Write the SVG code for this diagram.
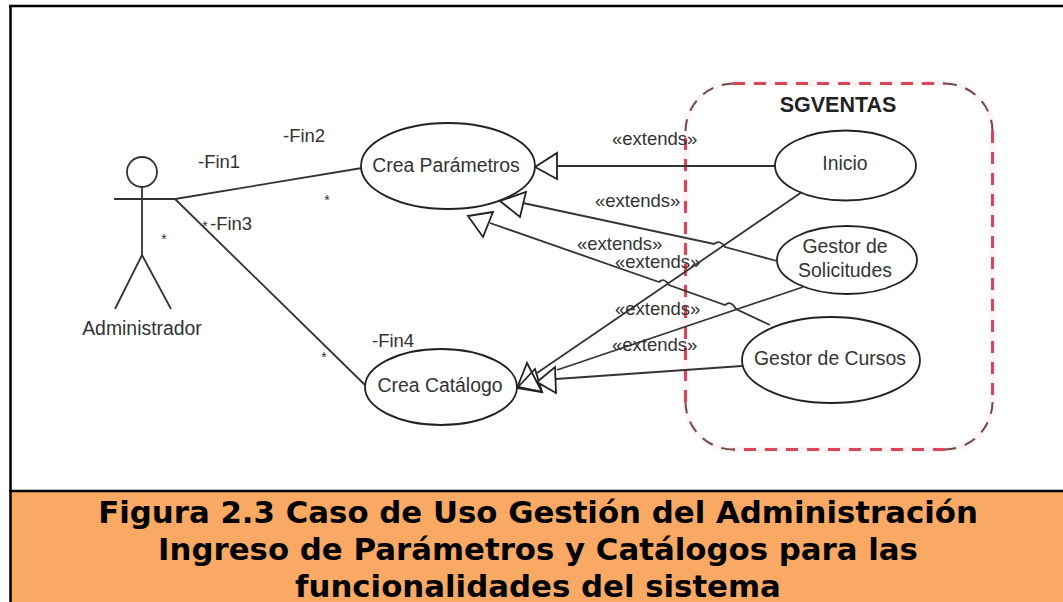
<svg xmlns="http://www.w3.org/2000/svg" width="1063" height="602" viewBox="0 0 1063 602">
<style>
.l{fill:none;stroke:#333;stroke-width:1.8}
.t{font-family:"Liberation Sans",Arial,sans-serif;font-size:18.5px;fill:#333}
.n{font-size:19.4px}
.s{font-size:14px}
.m{text-anchor:middle}
.e{fill:#fff;stroke:#222;stroke-width:1.8}
.a{fill:#fff;stroke:#222;stroke-width:1.8;stroke-linejoin:miter}
.o{fill:none;stroke:#222;stroke-width:1.8}
.c{font-family:"DejaVu Sans",Verdana,sans-serif;font-weight:bold;font-size:30.8px;fill:#000;text-anchor:middle}
.red{fill:none;stroke:#d9465a;stroke-width:3;stroke-dasharray:12 9}
.cor{fill:none;stroke:#6b4a50;stroke-width:2;stroke-dasharray:12 9}
</style>
<rect width="1063" height="602" fill="#fff"/>
<g id="boundary">
<rect x="685.500" y="83.500" width="307" height="366" rx="48" ry="48" fill="none" stroke="#fef4f4" stroke-width="6"/>
<path class="red" d="M733 83.500H945M992.500 131V402M945 449.500H733M685.500 402V131"/>
<path class="cor" d="M945 83.500A48 48 0 0 1 992.500 131M992.500 402A48 48 0 0 1 945 449.500M733 449.500A48 48 0 0 1 685.500 402M685.500 131A48 48 0 0 1 733 83.500"/>
<text class="t m" x="838" y="112" style="font-weight:bold;font-size:21.500px;fill:#222">SGVENTAS</text>
</g>
<g id="connectors">
<path class="l" d="M175 199L362 168"/>
<path class="l" d="M175 199L365 385"/>
<path class="l" d="M557 166L775 166"/>
<path class="l" d="M523 203L714 244Q720 239 725 247L777 261"/>
<path class="l" d="M490 223L659 282Q664 277 669 285L725 305Q731 300 736 309L770 325"/>
<path class="l" d="M802 192L537 373"/>
<path class="l" d="M803 287L557 370"/>
<path class="l" d="M742 366L556 379"/>
<polygon class="a" points="535,167 557,153 557,179"/>
<polygon class="a" points="500,201 526,192 520,217"/>
<polygon class="a" points="468,216 493,212 483,237"/>
<polygon class="a" points="517,388 527,363 542,392"/>
<polygon class="o" points="518,387 535,369 542,392"/>
<polygon class="a" points="537,382 555,367 556,393"/>
</g>
<g id="actor-administrador">
<circle class="l" cx="142" cy="172" r="15"/>
<path class="l" d="M142 187V255M114 199H175M115 309L142 255L171 309"/>
<text class="t m n" x="142" y="335">Administrador</text>
</g>
<g id="uc-crea-parametros"><ellipse class="e" cx="448" cy="166" rx="87" ry="43"/><text class="t m n" x="446" y="172">Crea Parámetros</text></g>
<g id="uc-crea-catalogo"><ellipse class="e" cx="441" cy="387" rx="76" ry="38"/><text class="t m n" x="440" y="392">Crea Catálogo</text></g>
<g id="uc-inicio"><ellipse class="e" cx="845.500" cy="165.500" rx="70.500" ry="35"/><text class="t m n" x="845" y="170">Inicio</text></g>
<g id="uc-gestor-solicitudes"><ellipse class="e" cx="847" cy="260" rx="70" ry="34"/><text class="t m n" x="845" y="253">Gestor de</text><text class="t m n" x="845" y="277">Solicitudes</text></g>
<g id="uc-gestor-cursos"><ellipse class="e" cx="831" cy="360" rx="89" ry="43"/><text class="t m n" x="830" y="365">Gestor de Cursos</text></g>
<g id="labels">
<text class="t" x="198" y="168">-Fin1</text>
<text class="t" x="283" y="142">-Fin2</text>
<text class="t" x="210" y="230">-Fin3</text>
<text class="t" x="372" y="347">-Fin4</text>
<text class="t m s" x="164" y="244">*</text>
<text class="t m s" x="327" y="205">*</text>
<text class="t m s" x="205" y="231">*</text>
<text class="t m s" x="324" y="362">*</text>
<text class="t" x="612" y="145">«extends»</text>
<text class="t" x="595" y="207">«extends»</text>
<text class="t" x="577" y="250">«extends»</text>
<text class="t" x="615" y="268">«extends»</text>
<text class="t" x="615" y="315">«extends»</text>
<text class="t" x="612" y="351">«extends»</text>
</g>
<g id="caption">
<rect x="10" y="492" width="1053" height="110" fill="#f9a964"/>
<path d="M9 6H1063M10.500 5V602M9 491H1063" fill="none" stroke="#000" stroke-width="2.500"/>
<text class="c" x="538" y="523">Figura 2.3 Caso de Uso Gestión del Administración</text>
<text class="c" x="538" y="560">Ingreso de Parámetros y Catálogos para las</text>
<text class="c" x="538" y="597">funcionalidades del sistema</text>
</g>
</svg>
